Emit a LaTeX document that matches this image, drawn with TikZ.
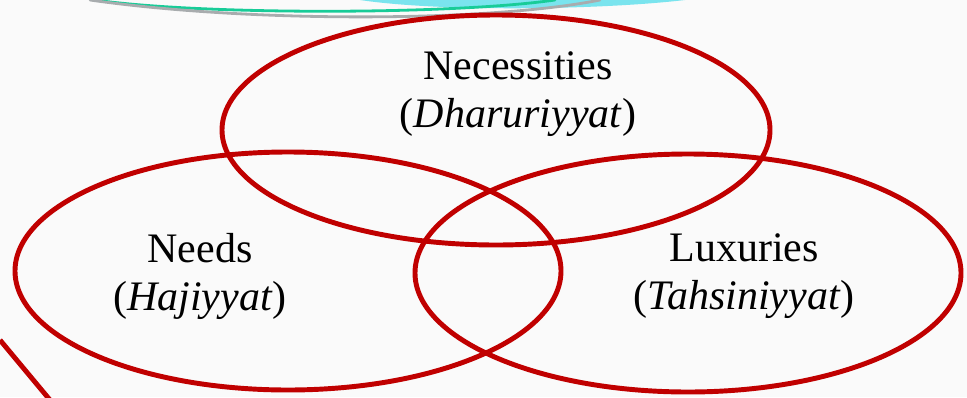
\documentclass[tikz,border=0pt]{standalone}
\usepackage{fontspec}
\setmainfont{Liberation Serif}[
  ItalicFont={Liberation Serif Italic},
  BoldFont={Liberation Serif Bold}]
\usetikzlibrary{positioning,calc}
\definecolor{SlideBg}{RGB}{250,250,250}
\definecolor{VennRed}{RGB}{192,0,0}
\definecolor{DecoCyan}{RGB}{122,228,238}
\definecolor{DecoGreen}{RGB}{24,204,152}
\definecolor{DecoGray}{RGB}{168,172,174}
\tikzset{
  venn/.style={draw=VennRed,line width=3.7pt},
  label/.style={align=center,inner sep=0pt,
                font=\fontsize{31.5}{36}\selectfont},
}

\begin{document}
\begin{tikzpicture}[
    x=0.75pt, y=-0.75pt,
    deco/.style={line width=2.1pt, line cap=round}
  ]
    \useasboundingbox[fill=SlideBg] (0,0) rectangle (967,397);

    % slide decoration
    \fill[DecoCyan] (360,0) .. controls (440,12) and (600,10) .. (685,0) -- cycle;
    \draw[deco, DecoGreen] (95,0) .. controls (200,15) and (450,15) .. (555,0);
    \draw[deco, DecoGray] (90,0) .. controls (250,23) and (490,22) .. (600,0);
    \draw[VennRed, line width=3.7pt] (0,340) -- (50,400);

    % the three sets
    \draw[venn] (496,130) ellipse [x radius=274, y radius=115];
    \draw[venn] (288,271) ellipse [x radius=273, y radius=119];
    \draw[venn] (688,273) ellipse [x radius=273, y radius=119];

    \node[label] (nec) at (518,94) {Necessities\\(\textit{Dharuriyyat})};
    \node[label] (need) at (200,276) {Needs\\(\textit{Hajiyyat})};
    \node[label] (lux) at (744,276) {Luxuries\\(\textit{Tahsiniyyat})};

  \end{tikzpicture}
\end{document}
